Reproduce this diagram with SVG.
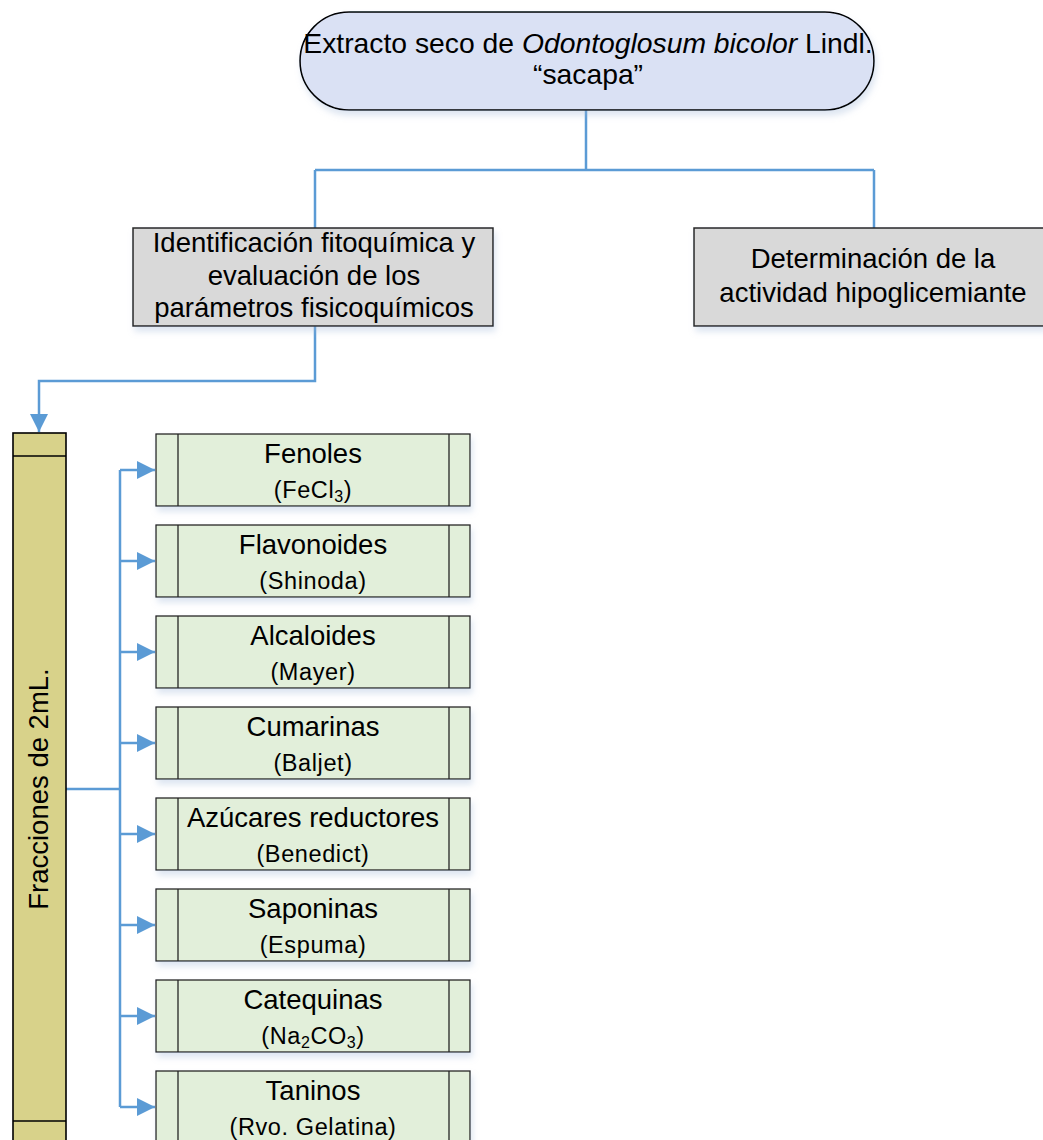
<svg xmlns="http://www.w3.org/2000/svg" width="1043" height="1140" viewBox="0 0 1043 1140">
<style>
text{font-family:"Liberation Sans",Arial,sans-serif;fill:#000;text-anchor:middle}
.t{font-size:27.5px}
.s{font-size:23.5px;letter-spacing:0.6px}
.conn{fill:none;stroke:#5b9bd5;stroke-width:2.5}
.g{fill:#e2efda;stroke:#262626;stroke-width:1.3}
.gl{stroke:#262626;stroke-width:1.3}
.gray{fill:#d9d9d9;stroke:#262626;stroke-width:1.5}
</style>
<defs>
<filter id="sh" x="-10%" y="-10%" width="130%" height="140%">
<feDropShadow dx="2" dy="5" stdDeviation="3" flood-color="#9fb6d8" flood-opacity="0.35"/>
</filter>
<marker id="ah" markerUnits="userSpaceOnUse" markerWidth="20" markerHeight="20" viewBox="0 0 20 20" refX="18" refY="10" orient="auto">
<path d="M0,1 L18,10 L0,19 Z" fill="#5b9bd5"/>
</marker>
</defs>

<g id="connectors">
<path class="conn" d="M586,110 V170 M315,170 H874 M315,170 V228 M874,170 V228"/>
<path class="conn" d="M315,326 V381 H39 V432" marker-end="url(#ah)"/>
<path class="conn" d="M66,789 H120 M120,470 V1107"/>
<path class="conn" d="M120,470 H155" marker-end="url(#ah)"/>
<path class="conn" d="M120,561 H155" marker-end="url(#ah)"/>
<path class="conn" d="M120,652 H155" marker-end="url(#ah)"/>
<path class="conn" d="M120,743 H155" marker-end="url(#ah)"/>
<path class="conn" d="M120,834 H155" marker-end="url(#ah)"/>
<path class="conn" d="M120,925 H155" marker-end="url(#ah)"/>
<path class="conn" d="M120,1016 H155" marker-end="url(#ah)"/>
<path class="conn" d="M120,1107 H155" marker-end="url(#ah)"/>
</g>

<g id="extracto">
<rect x="300" y="12" width="574" height="98" rx="49" ry="49" fill="#dae1f4" stroke="#000" stroke-width="1.6" filter="url(#sh)"/>
<text class="t" x="588" y="53" font-size="28.3" style="font-size:28.3px">Extracto seco de <tspan font-style="italic">Odontoglosum bicolor</tspan> Lindl.</text>
<text class="t" x="588" y="84" style="font-size:28.3px">“sacapa”</text>
</g>

<g id="identificacion">
<rect class="gray" x="133" y="228" width="360" height="98" filter="url(#sh)"/>
<text class="t" x="314" y="252">Identificación fitoquímica y</text>
<text class="t" x="314" y="285">evaluación de los</text>
<text class="t" x="314" y="317">parámetros fisicoquímicos</text>
</g>

<g id="determinacion">
<rect class="gray" x="694" y="228" width="352" height="98" filter="url(#sh)"/>
<text class="t" x="873" y="268">Determinación de la</text>
<text class="t" x="873" y="302">actividad hipoglicemiante</text>
</g>

<g id="fracciones">
<rect x="13" y="433" width="53" height="720" fill="#d8d28a" stroke="#000" stroke-width="1.6"/>
<line x1="13" y1="456" x2="66" y2="456" stroke="#000" stroke-width="1.6"/>
<line x1="13" y1="1121" x2="66" y2="1121" stroke="#000" stroke-width="1.6"/>
<text class="t" transform="translate(48,789) rotate(-90)" x="0" y="0">Fracciones de 2mL.</text>
</g>

<g id="fenoles">
<rect class="g" x="156" y="434" width="314" height="72" filter="url(#sh)"/>
<path class="gl" d="M178,434 V506 M449,434 V506"/>
<text class="t" x="313" y="463">Fenoles</text>
<text class="s" x="313" y="498">(FeCl<tspan style="font-size:16px" dy="4">3</tspan><tspan dy="-4">)</tspan></text>
</g>

<g id="flavonoides">
<rect class="g" x="156" y="525" width="314" height="72" filter="url(#sh)"/>
<path class="gl" d="M178,525 V597 M449,525 V597"/>
<text class="t" x="313" y="554">Flavonoides</text>
<text class="s" x="313" y="589">(Shinoda)</text>
</g>

<g id="alcaloides">
<rect class="g" x="156" y="616" width="314" height="72" filter="url(#sh)"/>
<path class="gl" d="M178,616 V688 M449,616 V688"/>
<text class="t" x="313" y="645">Alcaloides</text>
<text class="s" x="313" y="680">(Mayer)</text>
</g>

<g id="cumarinas">
<rect class="g" x="156" y="707" width="314" height="72" filter="url(#sh)"/>
<path class="gl" d="M178,707 V779 M449,707 V779"/>
<text class="t" x="313" y="736">Cumarinas</text>
<text class="s" x="313" y="771">(Baljet)</text>
</g>

<g id="azucares">
<rect class="g" x="156" y="798" width="314" height="72" filter="url(#sh)"/>
<path class="gl" d="M178,798 V870 M449,798 V870"/>
<text class="t" x="313" y="827">Azúcares reductores</text>
<text class="s" x="313" y="862">(Benedict)</text>
</g>

<g id="saponinas">
<rect class="g" x="156" y="889" width="314" height="72" filter="url(#sh)"/>
<path class="gl" d="M178,889 V961 M449,889 V961"/>
<text class="t" x="313" y="918">Saponinas</text>
<text class="s" x="313" y="953">(Espuma)</text>
</g>

<g id="catequinas">
<rect class="g" x="156" y="980" width="314" height="72" filter="url(#sh)"/>
<path class="gl" d="M178,980 V1052 M449,980 V1052"/>
<text class="t" x="313" y="1009">Catequinas</text>
<text class="s" x="313" y="1044">(Na<tspan style="font-size:16px" dy="4">2</tspan><tspan dy="-4">CO</tspan><tspan style="font-size:16px" dy="4">3</tspan><tspan dy="-4">)</tspan></text>
</g>

<g id="taninos">
<rect class="g" x="156" y="1071" width="314" height="80" filter="url(#sh)"/>
<path class="gl" d="M178,1071 V1151 M449,1071 V1151"/>
<text class="t" x="313" y="1100">Taninos</text>
<text class="s" x="313" y="1135">(Rvo. Gelatina)</text>
</g>
</svg>
